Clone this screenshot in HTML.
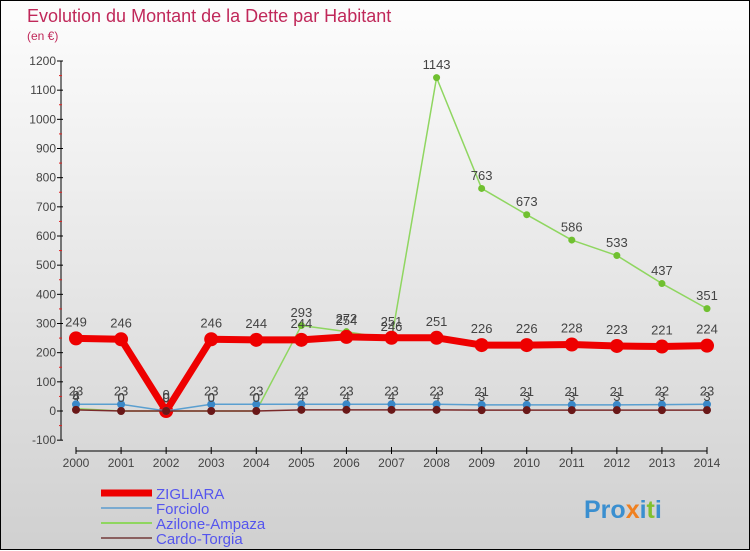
<!DOCTYPE html>
<html><head><meta charset="utf-8"><style>
body{margin:0;width:750px;height:550px;overflow:hidden;font-family:"Liberation Sans",sans-serif;}
#wrap{position:relative;width:748px;height:548px;border:1px solid #000;background:linear-gradient(#fdfdfd,#d0d0d0);}
svg{position:absolute;left:0;top:0}
</style></head><body>
<div id="wrap">
<svg id="chart" width="750" height="550">
<text x="26" y="21" font-size="18" fill="#c0285a">Evolution du Montant de la Dette par Habitant</text>
<text x="26" y="39" font-size="12" fill="#c0285a">(en €)</text>
<g id="axes"></g><g id="series"></g><g id="legend"></g>
<text x="583" y="517" font-size="25" font-weight="bold" fill="#3a8fd0">Pro<tspan fill="#f08020">x</tspan>i<tspan fill="#80c030">t</tspan>i</text>
</svg></div>
<script>
const years=[2000,2001,2002,2003,2004,2005,2006,2007,2008,2009,2010,2011,2012,2013,2014];
const zigliara=[249,246,0,246,244,244,254,251,251,226,226,228,223,221,224];
const forciolo=[23,23,0,23,23,23,23,23,23,21,21,21,21,22,23];
const azilone=[8,0,0,0,0,293,272,246,1143,763,673,586,533,437,351];
const cardo=[4,0,0,0,0,4,4,4,4,3,3,3,3,3,3];
const yTicks=[-100,0,100,200,300,400,500,600,700,800,900,1000,1100,1200];
const NS="http://www.w3.org/2000/svg";
const X=i=>75+i*(706-75)/(years.length-1);
const Y=v=>410-v*(350/1200);
function mk(tag,attrs,parent,text){const e=document.createElementNS(NS,tag);for(const k in attrs)e.setAttribute(k,attrs[k]);if(text!==undefined)e.textContent=text;parent.appendChild(e);return e;}
const ax=document.getElementById('axes');
let l=mk('line',{x1:60,y1:Y(1200),x2:60,y2:Y(-100),stroke:'#000'},ax);


l=mk('line',{x1:X(0),y1:450,x2:X(14),y2:450,stroke:'#000'},ax);


yTicks.forEach(v=>{
 mk('line',{x1:56,y1:Y(v),x2:62,y2:Y(v),stroke:'#000'},ax);
 if(v<1200)mk('line',{x1:58,y1:Y(v+50),x2:61,y2:Y(v+50),stroke:'#e02020'},ax);
 const t=mk('text',{x:55,y:Y(v)+4,'font-size':12,fill:'#444','text-anchor':'end'},ax,v);
 
 
});
years.forEach((yr,i)=>{
 mk('line',{x1:X(i),y1:446,x2:X(i),y2:453,stroke:'#000'},ax);
 const t=mk('text',{x:X(i),y:466,'font-size':12,fill:'#444','text-anchor':'middle'},ax,yr);
 
 
});
const sg=document.getElementById('series');
function series(vals,color,w,r,name,dotStroke){
 const g=mk('g',{},sg);
 
 
 const p=mk('polyline',{points:vals.map((v,i)=>X(i)+','+Y(v)).join(' '),fill:'none',stroke:color,'stroke-width':w,'stroke-linejoin':'round'},g);
 
 
 vals.forEach((v,i)=>{
  const c=mk('circle',{cx:X(i),cy:Y(v),r:r,fill:dotStroke||color},g);
  
  
  const t=mk('text',{x:X(i),y:Y(v)-r-5,'font-size':13,fill:'#444','text-anchor':'middle'},g,v);
  
  
 });
}
series(azilone,'#8fd660',1.5,3.5,'azilone-ampaza','#70c030');
series(zigliara,'#ee0000',7,7,'zigliara');
series(forciolo,'#5a9fd0',1.5,4,'forciolo','#3a88c8');
series(cardo,'#7a2a2a',1.5,4,'cardo-torgia','#6a1818');
const lg=document.getElementById('legend');
[['ZIGLIARA','#ee0000',7],['Forciolo','#7aaad0',2],['Azilone-Ampaza','#8fd660',2],['Cardo-Torgia','#8a6060',2]].forEach((d,i)=>{
 const y=492+i*15;
 const g=mk('g',{},lg);
 
 
 mk('line',{x1:100,y1:y,x2:151,y2:y,stroke:d[1],'stroke-width':d[2]},g);
 mk('text',{x:155,y:y+6,'font-size':15,fill:'#5555ee'},g,d[0]);
});
</script></body></html>
